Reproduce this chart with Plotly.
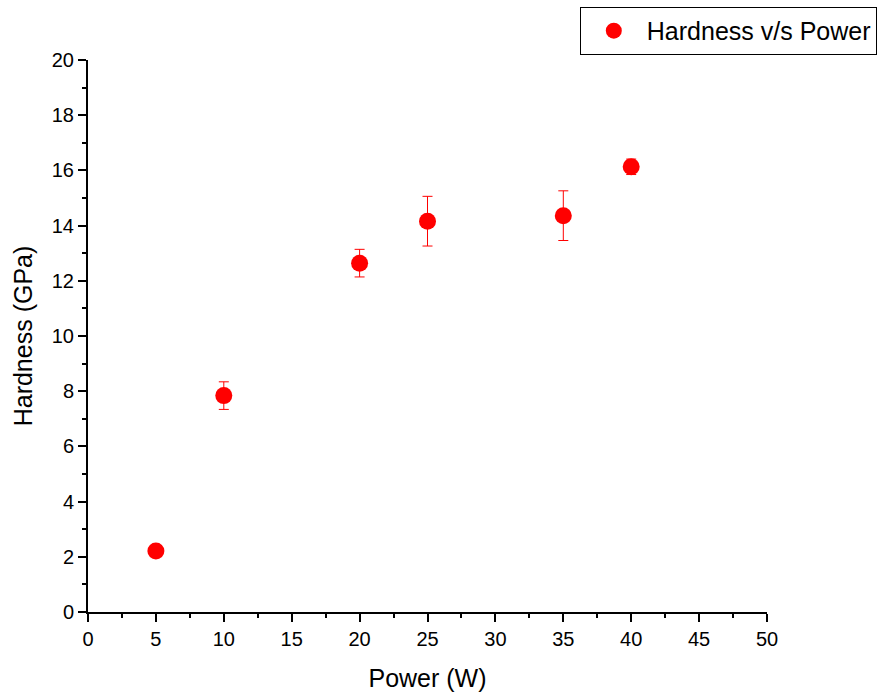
import plotly.graph_objects as go

# Laser power (W) and measured hardness (GPa) with standard deviation
power_w = [5, 10, 20, 25, 35, 40]
hardness_gpa = [2.21, 7.84, 12.64, 14.16, 14.36, 16.13]
hardness_err = [0.0, 0.50, 0.50, 0.90, 0.90, 0.28]

x_ticks = [0, 5, 10, 15, 20, 25, 30, 35, 40, 45, 50]
y_ticks = [0, 2, 4, 6, 8, 10, 12, 14, 16, 18, 20]

FONT = "Liberation Sans, Arial, sans-serif"

fig = go.Figure()
fig.add_trace(go.Scatter(
    x=power_w,
    y=hardness_gpa,
    mode="markers",
    name="Hardness v/s Power",
    marker=dict(color="#ff0000", size=17, symbol="circle"),
    error_y=dict(type="data", array=hardness_err, visible=True,
                 color="#ff0000", thickness=1, width=5),
))

axis_common = dict(
    showline=True, linecolor="black", linewidth=2,
    ticks="outside", tickcolor="black", tickwidth=2, ticklen=8,
    showgrid=False, zeroline=False, mirror=False,
    tickfont=dict(family=FONT, size=20, color="black"),
    minor=dict(ticks="outside", ticklen=4, tickwidth=2, tickcolor="black"),
)

fig.update_layout(
    width=892, height=694,
    margin=dict(l=88, r=125, t=60, b=82, autoexpand=False),
    plot_bgcolor="white", paper_bgcolor="white",
    font=dict(family=FONT, color="black"),
    xaxis=dict(range=[0, 50], tickvals=x_ticks,
               title=dict(text="Power (W)", font=dict(family=FONT, size=25), standoff=20),
               **axis_common),
    yaxis=dict(range=[0, 20], tickvals=y_ticks,
               title=dict(text="Hardness (GPa)", font=dict(family=FONT, size=25), standoff=12),
               **axis_common),
    showlegend=True,
    legend=dict(xref="container", yref="container", x=0.65, y=0.99,
                xanchor="left", yanchor="top", itemwidth=56,
                bordercolor="black", borderwidth=1, bgcolor="white",
                font=dict(family=FONT, size=25)),
)
fig.update_xaxes(minor=dict(dtick=2.5, tick0=0))
fig.update_yaxes(minor=dict(dtick=1, tick0=0))

fig.write_html("out.html")
